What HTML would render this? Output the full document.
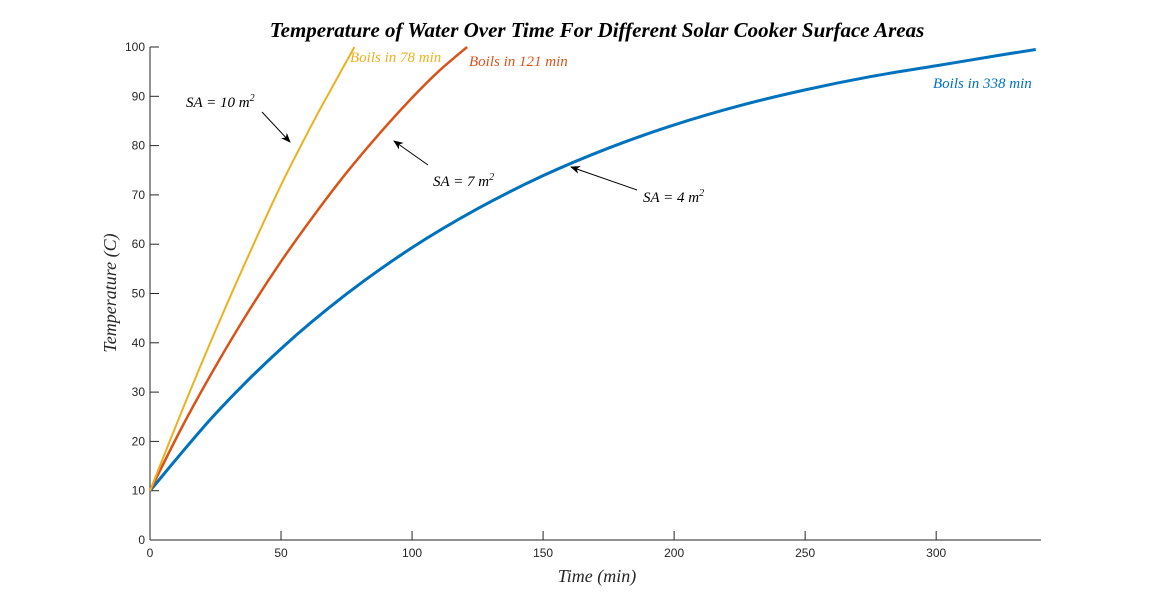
<!DOCTYPE html>
<html><head><meta charset="utf-8"><style>
html,body{margin:0;padding:0;background:#fff;}
svg{display:block;}
.tk{font-family:"Liberation Sans",sans-serif;font-size:12px;fill:#262626;}
.it{font-family:"Liberation Serif",serif;font-style:italic;}
</style></head><body>
<svg id="chart" width="1150" height="607" viewBox="0 0 1150 607">
<defs><marker id="ah" markerWidth="10" markerHeight="8" refX="9" refY="4" orient="auto" markerUnits="userSpaceOnUse"><path d="M0,0 L10,4 L0,8 L3,4 Z" fill="#000"/></marker></defs>
<text x="597" y="37" text-anchor="middle" class="it" font-weight="bold" font-size="21">Temperature of Water Over Time For Different Solar Cooker Surface Areas</text>
<g id="axes"></g>
<g id="series"></g>
<text transform="translate(116,293) rotate(-90)" text-anchor="middle" class="it" font-size="18" fill="#262626">Temperature (C)</text>
<text x="597" y="582" text-anchor="middle" class="it" font-size="18" fill="#262626">Time (min)</text>
<g><text x="186" y="107" class="it" font-size="15">SA = 10 m<tspan dy="-6" font-size="10">2</tspan></text><line x1="262" y1="112" x2="290" y2="142" stroke="#000" stroke-width="1" marker-end="url(#ah)"/></g>
<g><text x="433" y="186" class="it" font-size="15">SA = 7 m<tspan dy="-6" font-size="10">2</tspan></text><line x1="428" y1="165" x2="394" y2="141" stroke="#000" stroke-width="1" marker-end="url(#ah)"/></g>
<g><text x="643" y="202" class="it" font-size="15">SA = 4 m<tspan dy="-6" font-size="10">2</tspan></text><line x1="637" y1="190" x2="571" y2="167" stroke="#000" stroke-width="1" marker-end="url(#ah)"/></g>
<text x="350" y="62" class="it" font-size="15" fill="#EDB120">Boils in 78 min</text>
<text x="469" y="66" class="it" font-size="15" fill="#D95319">Boils in 121 min</text>
<text x="933" y="88" class="it" font-size="15" fill="#0072BD">Boils in 338 min</text>
</svg>
<script>
const xTicks=[0,50,100,150,200,250,300];
const yTicks=[0,10,20,30,40,50,60,70,80,90,100];
const blueT=[0,25,50,75,100,125,150,175,200,225,250,275,300,325,338];
const blueV=[10,25.6,38.8,49.9,59.3,67.2,73.9,79.5,84.2,88.1,91.3,94,96.2,98.4,99.5];
const redT=[0,12.5,25,37.5,50,62.5,75,87.5,100,110,121];
const redV=[10,23.2,35.2,46.3,56.5,65.8,74.5,82.4,89.7,95,100];
const yellowT=[0,12.5,25,37.5,50,62.5,70,78];
const yellowV=[10,26.6,42.5,57.6,72,85,92.3,100];
const X0=150,X1=1041,XMAX=340,Y0=540,Y1=47;
const sx=v=>X0+(X1-X0)*v/XMAX, sy=v=>Y0-(Y0-Y1)*v/100;
const NS='http://www.w3.org/2000/svg';
const ax=document.getElementById('axes'), se=document.getElementById('series');
function mk(tag,at,parent){const e=document.createElementNS(NS,tag);for(const k in at)e.setAttribute(k,at[k]);parent.appendChild(e);return e;}
const xl=mk('line',{x1:X0,y1:Y0,x2:X1,y2:Y0,stroke:'#262626','stroke-width':1},ax);


const yl=mk('line',{x1:X0,y1:Y0,x2:X0,y2:Y1,stroke:'#262626','stroke-width':1},ax);


xTicks.forEach(t=>{
  const l=mk('line',{x1:sx(t),y1:Y0,x2:sx(t),y2:Y0-9,stroke:'#262626'},ax);
  
  
  const tx=mk('text',{x:sx(t),y:Y0+17,'text-anchor':'middle','class':'tk'},ax);tx.textContent=t;
  
  
});
yTicks.forEach(t=>{
  const l=mk('line',{x1:X0,y1:sy(t),x2:X0+9,y2:sy(t),stroke:'#262626'},ax);
  
  
  const tx=mk('text',{x:X0-5,y:sy(t)+4,'text-anchor':'end','class':'tk'},ax);tx.textContent=t;
  
  
});
function pathD(T,V){
  const p=T.map((t,i)=>[sx(t),sy(V[i])]);
  let d='M'+p[0][0]+','+p[0][1];
  for(let i=0;i<p.length-1;i++){
    const a=p[Math.max(0,i-1)],b=p[i],c=p[i+1],e=p[Math.min(p.length-1,i+2)];
    const c1=[b[0]+(c[0]-a[0])/6,b[1]+(c[1]-a[1])/6],c2=[c[0]-(e[0]-b[0])/6,c[1]-(e[1]-b[1])/6];
    d+=' C'+c1+' '+c2+' '+c;
  }
  return d;
}
const b=mk('path',{d:pathD(blueT,blueV),fill:'none',stroke:'#0072BD','stroke-width':3},se);


const r=mk('path',{d:pathD(redT,redV),fill:'none',stroke:'#D95319','stroke-width':2.5},se);


const y=mk('path',{d:pathD(yellowT,yellowV),fill:'none',stroke:'#EDB120','stroke-width':2},se);


</script>
</body></html>
